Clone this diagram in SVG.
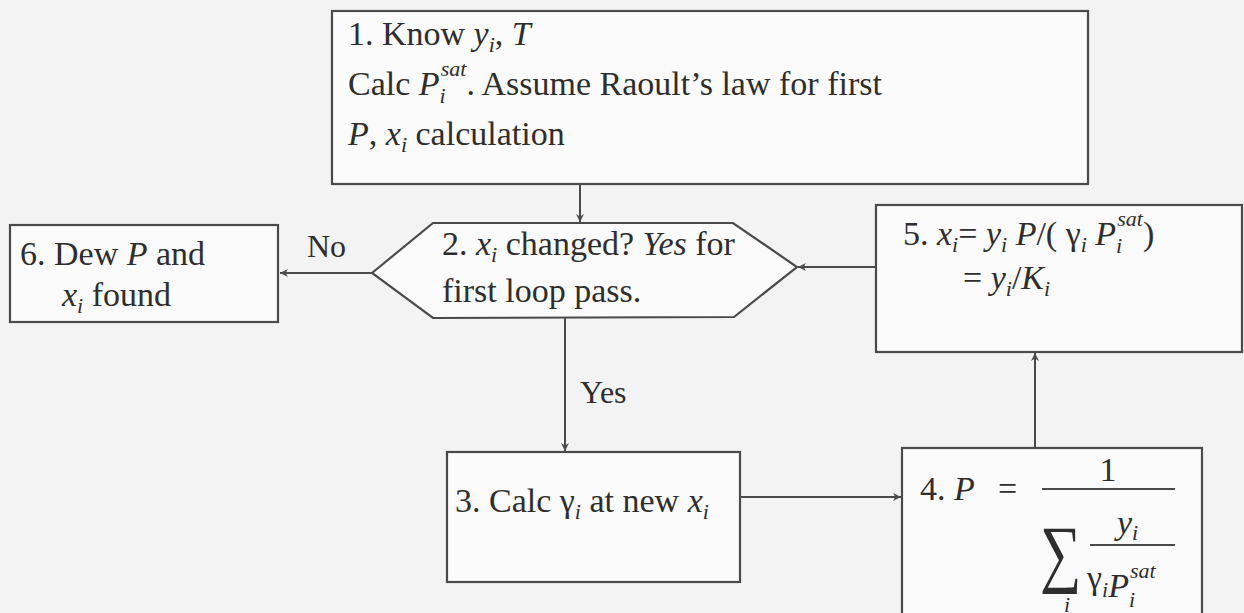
<svg xmlns="http://www.w3.org/2000/svg" width="1244" height="613" viewBox="0 0 1244 613">
<style>
.bg{fill:#f3f3f3}
.box{fill:#fbfbfb;stroke:#4a4a4a;stroke-width:2.2}
.ln{fill:none;stroke:#4a4a4a;stroke-width:2}
.t{font-family:'Liberation Serif',serif;font-size:34px;fill:#2e2e2e}
.it{font-style:italic}
.sub{font-size:22px}
.lbl{font-family:'Liberation Serif',serif;font-size:32px;fill:#2e2e2e}
</style>
<defs>
<marker id="ah" viewBox="0 0 10 10" refX="10" refY="5" markerWidth="8" markerHeight="8" markerUnits="userSpaceOnUse" orient="auto">
<path d="M0,0 L10,5 L0,10 L3,5 Z" fill="#4a4a4a"/>
</marker>
</defs>
<rect class="bg" x="0" y="0" width="1244" height="613"/>

<g id="connectors">
<line class="ln" x1="580" y1="184" x2="580" y2="222" marker-end="url(#ah)"/>
<line class="ln" x1="372" y1="273" x2="280" y2="273" marker-end="url(#ah)"/>
<line class="ln" x1="565" y1="318" x2="565" y2="451" marker-end="url(#ah)"/>
<line class="ln" x1="740" y1="497" x2="901" y2="497" marker-end="url(#ah)"/>
<line class="ln" x1="1035" y1="448" x2="1035" y2="353" marker-end="url(#ah)"/>
<line class="ln" x1="876" y1="267" x2="798" y2="267" marker-end="url(#ah)"/>
<text class="lbl" x="307" y="257">No</text>
<text class="lbl" x="580" y="403">Yes</text>
</g>

<g id="node1">
<rect class="box" x="332" y="11" width="756" height="173"/>
<text class="t" x="348" y="45">1. Know <tspan class="it">y</tspan><tspan class="sub it" dy="7">i</tspan><tspan dy="-7">, </tspan><tspan class="it">T</tspan></text>
<text class="t" x="348" y="95">Calc <tspan class="it">P</tspan><tspan class="sub it" dy="8">i</tspan><tspan class="sub it" dx="-5" dy="-27">sat</tspan><tspan dy="19">. Assume Raoult’s law for first</tspan></text>
<text class="t" x="348" y="145"><tspan class="it">P</tspan>, <tspan class="it">x</tspan><tspan class="sub it" dy="7">i</tspan><tspan dy="-7"> calculation</tspan></text>
</g>

<g id="node2">
<polygon class="box" points="372,273 433,223 733,223 797,267 734,317 433,318"/>
<text class="t" x="442" y="255">2. <tspan class="it">x</tspan><tspan class="sub it" dy="7">i</tspan><tspan dy="-7"> changed? </tspan><tspan class="it">Yes</tspan> for</text>
<text class="t" x="442" y="302">first loop pass.</text>
</g>

<g id="node6">
<rect class="box" x="10" y="225" width="268" height="97"/>
<text class="t" x="20" y="265">6. Dew <tspan class="it">P</tspan> and</text>
<text class="t" x="62" y="306"><tspan class="it">x</tspan><tspan class="sub it" dy="7">i</tspan><tspan dy="-7"> found</tspan></text>
</g>

<g id="node5">
<rect class="box" x="876" y="205" width="366" height="147"/>
<text class="t" x="903" y="245">5. <tspan class="it">x</tspan><tspan class="sub it" dy="7">i</tspan><tspan dy="-7">= </tspan><tspan class="it">y</tspan><tspan class="sub it" dy="7">i</tspan><tspan dy="-7"> </tspan><tspan class="it">P</tspan>/( γ<tspan class="sub it" dy="7">i</tspan><tspan dy="-7"> </tspan><tspan class="it">P</tspan><tspan class="sub it" dy="8">i</tspan><tspan class="sub it" dx="-5" dy="-27">sat</tspan><tspan dy="19">)</tspan></text>
<text class="t" x="963" y="289">= <tspan class="it">y</tspan><tspan class="sub it" dy="7">i</tspan><tspan dy="-7">/</tspan><tspan class="it">K</tspan><tspan class="sub it" dy="7">i</tspan></text>
</g>

<g id="node3">
<rect class="box" x="447" y="452" width="293" height="130"/>
<text class="t" x="455" y="512">3. Calc γ<tspan class="sub it" dy="7">i</tspan><tspan dy="-7"> at new </tspan><tspan class="it">x</tspan><tspan class="sub it" dy="7">i</tspan></text>
</g>

<g id="node4">
<rect class="box" x="902" y="448" width="300" height="175"/>
<text class="t" x="920" y="500">4. <tspan class="it">P</tspan></text>
<text class="t" x="998" y="500">=</text>
<line class="ln" x1="1042" y1="489" x2="1175" y2="489"/>
<text class="t" x="1108" y="481" text-anchor="middle">1</text>
<text class="t" x="1040" y="578" transform="translate(1040 578) scale(1 1.3) translate(-1040 -578)" style="font-size:58px">∑</text>
<text class="t" x="1117" y="534"><tspan class="it">y</tspan><tspan class="sub it" dy="6">i</tspan></text>
<line class="ln" x1="1090" y1="545" x2="1175" y2="545"/>
<text class="t" x="1087" y="589">γ<tspan class="sub it" dy="8">i</tspan><tspan class="it">P</tspan><tspan class="sub it" dy="10">i</tspan><tspan class="sub it" dx="-5" dy="-29">sat</tspan></text>
<text class="t sub it" x="1064" y="612">i</text>
</g>
</svg>
